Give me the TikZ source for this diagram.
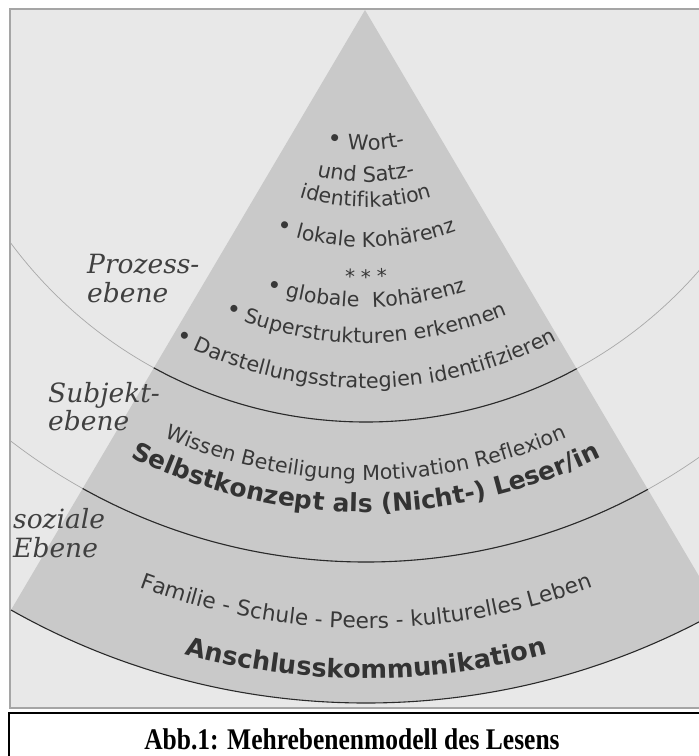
\documentclass[tikz,border=0pt]{standalone}
\usepackage{fontspec}
\usetikzlibrary{decorations.text}
\newfontfamily\sansf{DejaVu Sans}
\newfontfamily\labf{DejaVu Serif}
\newfontfamily\capf{Liberation Serif}
\definecolor{bgc}{HTML}{E8E8E8}
\definecolor{pyrc}{HTML}{C9C9C9}
\definecolor{framec}{HTML}{A5A5A5}
\definecolor{arcdk}{HTML}{2A2A2A}
\definecolor{arclt}{HTML}{A8A8A8}
\definecolor{txt}{HTML}{383838}
\definecolor{txtb}{HTML}{333333}
\definecolor{labc}{HTML}{404040}
\tikzset{
  arcdark/.style={draw=arcdk, line width=1.1pt},
  arclight/.style={draw=arclt, line width=0.7pt},
  levellabel/.style={anchor=base west, inner sep=0pt, text=labc,
    font=\labf\itshape\fontsize{26.5}{30}\selectfont},
  caption/.style={anchor=base, inner sep=0pt, text=black, xscale=0.85, transform shape,
    font=\capf\bfseries\fontsize{30}{36}\selectfont}
}
\newcommand\bul{\sansf\fontsize{24}{28}\selectfont}
% curved text: #1 radius, #2 colour, #3 text with formats
\newcommand\arctext[3]{%
  \path[decorate,decoration={text along path,text align=center,
    text color=#2,text={#3}}]
    ([shift={(200:#1)}]C) arc[start angle=200,end angle=340,radius=#1];}
\begin{document}
\begin{tikzpicture}[x=1pt,y=1pt]
\useasboundingbox (0,-756) rectangle (699,0);
\fill[white] (0,-756) rectangle (699,0);
\coordinate (C) at (366,20);
\coordinate (apex) at (365,-10);
% page frame
\draw[draw=framec, line width=1.2pt, fill=bgc] (10,-9) rectangle (712,-708);
\begin{scope}
  \clip (10,-9) rectangle (712,-708);
  \begin{scope}
    \clip (C) circle[radius=723];
    \fill[pyrc] (apex) -- (-107,-810) -- (837,-810) -- cycle;
  \end{scope}
  \draw[arclight] (C) circle[radius=442];
  \draw[arclight] (C) circle[radius=582];
  \begin{scope}
    \clip (apex) -- (-107,-810) -- (837,-810) -- cycle;
    \draw[arcdark] (C) circle[radius=442];
    \draw[arcdark] (C) circle[radius=582];
    \draw[arcdark] (C) circle[radius=723];
  \end{scope}
\end{scope}
% process level
\arctext{170}{txt}{|\bul|•|\sansf\fontsize{21}{24}\selectfont| Wort-}
\arctext{202}{txt}{|\sansf\fontsize{21}{24}\selectfont|und Satz-}
\arctext{227}{txt}{|\sansf\fontsize{20.5}{24}\selectfont|identifikation}
\arctext{267}{txt}{|\bul|•|\sansf\fontsize{20.5}{24}\selectfont| lokale Kohärenz}
\arctext{304}{txt}{|\sansf\fontsize{20}{24}\selectfont|* * *}
\arctext{327}{txt}{|\bul|•|\sansf\fontsize{20.5}{24}\selectfont| globale~ Kohärenz}
\arctext{363}{txt}{|\bul|•|\sansf\fontsize{20.5}{24}\selectfont| Superstrukturen erkennen}
\arctext{408}{txt}{|\bul|•|\sansf\fontsize{20.7}{24}\selectfont| Darstellungsstrategien identifizieren}
% subject level
\arctext{500}{txt}{|\sansf\fontsize{20.6}{24}\selectfont|Wissen Beteiligung Motivation Reflexion}
\arctext{532}{txtb}{|\sansf\bfseries\fontsize{25}{30}\selectfont|Selbstkonzept als (Nicht-) Leser/in}
% social level
\arctext{648}{txt}{|\sansf\fontsize{21.7}{25}\selectfont|Familie - Schule - Peers - kulturelles Leben}
\arctext{698}{txtb}{|\sansf\bfseries\fontsize{25.5}{30}\selectfont|Anschlusskommunikation}
% level labels
\node[levellabel] (p1) at (87,-273) {Prozess-};
\node[levellabel] (p2) at (87,-302) {ebene};
\node[levellabel] (s1) at (48,-402) {Subjekt-};
\node[levellabel] (s2) at (48,-430) {ebene};
\node[levellabel] (z1) at (13,-528) {soziale};
\node[levellabel] (z2) at (13,-557) {Ebene};
% caption box
\draw[black, line width=1.6pt, fill=white] (9,-713) rectangle (712,-765);
\node[caption] (cap) at (352,-749) {Abb.1: Mehrebenenmodell des Lesens};
\end{tikzpicture}
\end{document}
